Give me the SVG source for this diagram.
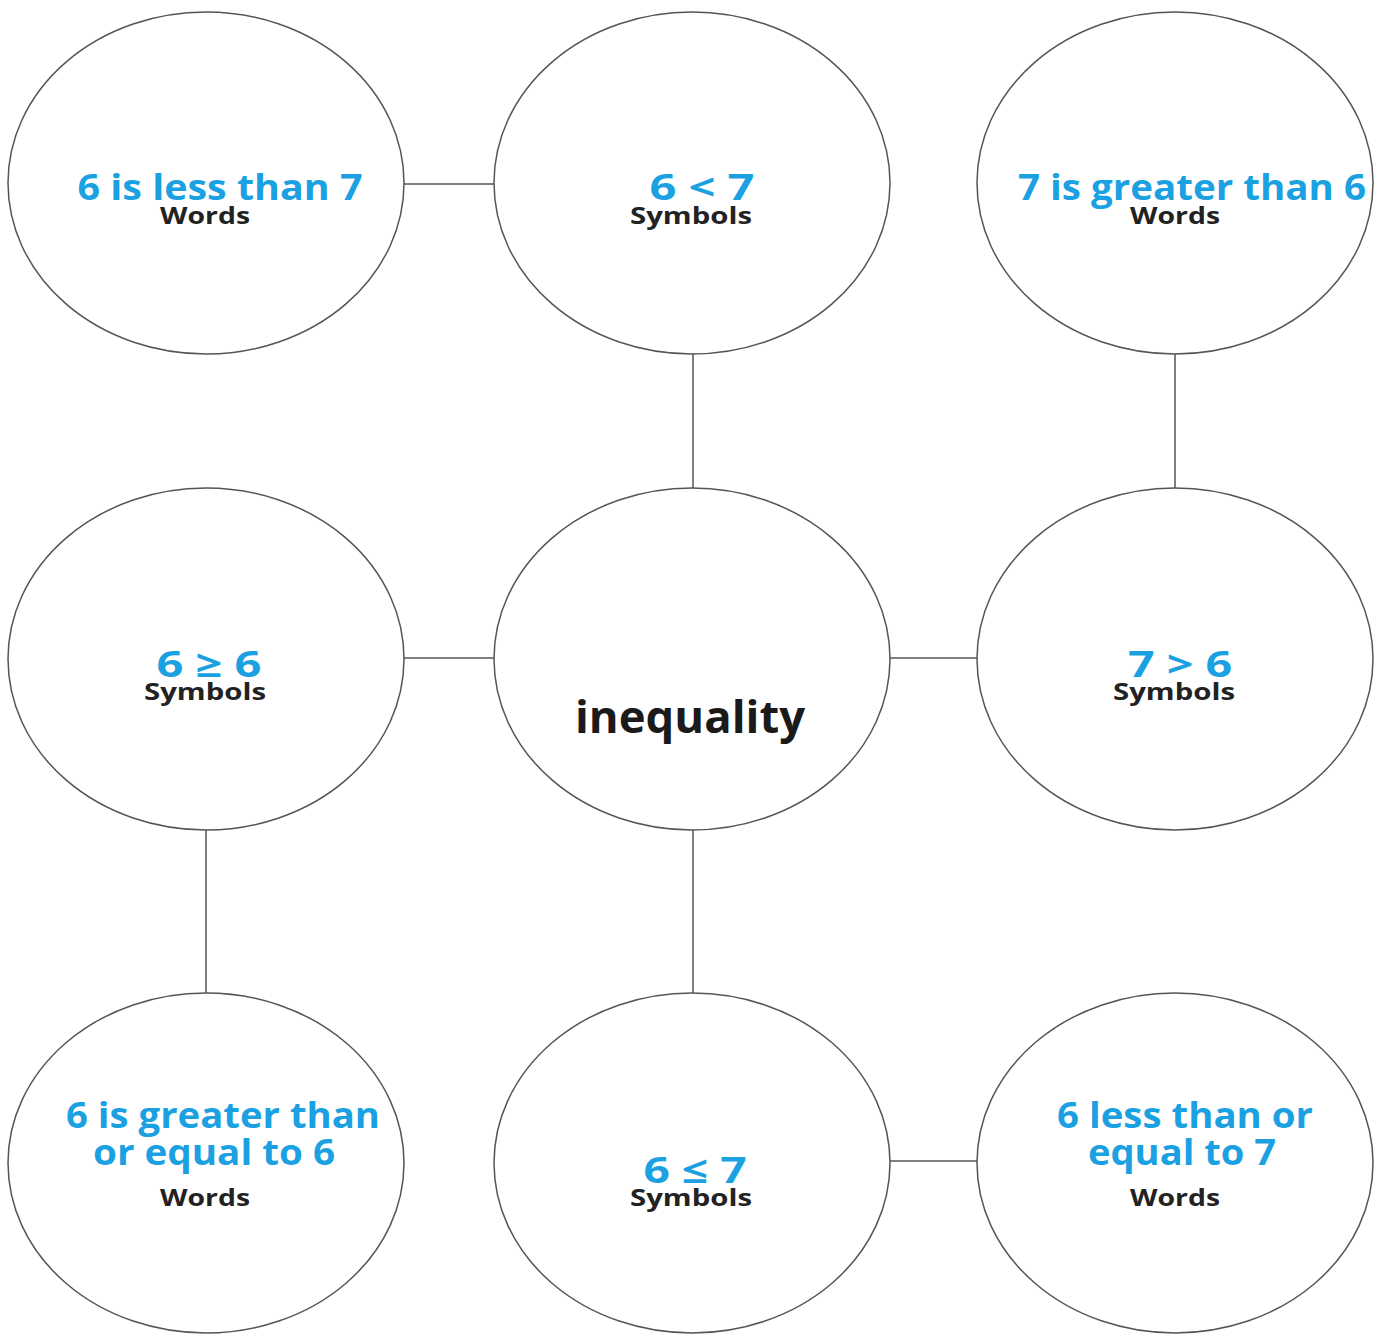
<svg xmlns="http://www.w3.org/2000/svg" width="1383" height="1335" viewBox="0 0 1383 1335">
<style>
.n{fill:#fff;stroke:#555;stroke-width:1.5}
.c line{stroke:#555;stroke-width:1.5}
.b{font-family:"Open Sans","Liberation Sans",sans-serif;font-weight:700;font-size:36px;fill:#1ba1e2;text-anchor:middle}
.k{font-family:"Open Sans","Liberation Sans",sans-serif;font-weight:700;font-size:24px;fill:#222;text-anchor:middle}
.t{font-family:"Open Sans","Liberation Sans",sans-serif;font-weight:700;font-size:44px;fill:#1a1a1a;text-anchor:middle}
</style>
<rect width="1383" height="1335" fill="#fff"/>
<g class="c" id="connectors">
<line x1="404" y1="184" x2="494" y2="184"/>
<line x1="693" y1="354" x2="693" y2="488"/>
<line x1="1175" y1="354" x2="1175" y2="488"/>
<line x1="404" y1="658" x2="494" y2="658"/>
<line x1="890" y1="658" x2="977" y2="658"/>
<line x1="206" y1="830" x2="206" y2="993"/>
<line x1="693" y1="830" x2="693" y2="993"/>
<line x1="890" y1="1161" x2="977" y2="1161"/>
</g>
<g id="n1"><ellipse class="n" cx="206" cy="183" rx="198" ry="171"/>
<text class="b" x="220" y="200" textLength="285" lengthAdjust="spacingAndGlyphs">6 is less than 7</text>
<text class="k" x="205" y="224" textLength="90" lengthAdjust="spacingAndGlyphs">Words</text></g>
<g id="n2"><ellipse class="n" cx="692" cy="183" rx="198" ry="171"/>
<text class="b" x="702" y="200" textLength="105" lengthAdjust="spacingAndGlyphs">6 &lt; 7</text>
<text class="k" x="691" y="224" textLength="122" lengthAdjust="spacingAndGlyphs">Symbols</text></g>
<g id="n3"><ellipse class="n" cx="1175" cy="183" rx="198" ry="171"/>
<text class="b" x="1192" y="200" textLength="348" lengthAdjust="spacingAndGlyphs">7 is greater than 6</text>
<text class="k" x="1175" y="224" textLength="90" lengthAdjust="spacingAndGlyphs">Words</text></g>
<g id="n4"><ellipse class="n" cx="206" cy="659" rx="198" ry="171"/>
<text class="b" x="209" y="677" textLength="105" lengthAdjust="spacingAndGlyphs">6 ≥ 6</text>
<text class="k" x="205" y="700" textLength="122" lengthAdjust="spacingAndGlyphs">Symbols</text></g>
<g id="n5"><ellipse class="n" cx="692" cy="659" rx="198" ry="171"/>
<text class="t" x="690" y="733" textLength="230" lengthAdjust="spacingAndGlyphs">inequality</text></g>
<g id="n6"><ellipse class="n" cx="1175" cy="659" rx="198" ry="171"/>
<text class="b" x="1180" y="677" textLength="104" lengthAdjust="spacingAndGlyphs">7 &gt; 6</text>
<text class="k" x="1174" y="700" textLength="122" lengthAdjust="spacingAndGlyphs">Symbols</text></g>
<g id="n7"><ellipse class="n" cx="206" cy="1163" rx="198" ry="170"/>
<text class="b" x="223" y="1128" textLength="314" lengthAdjust="spacingAndGlyphs">6 is greater than</text>
<text class="b" x="214" y="1165" textLength="242" lengthAdjust="spacingAndGlyphs">or equal to 6</text>
<text class="k" x="205" y="1206" textLength="90" lengthAdjust="spacingAndGlyphs">Words</text></g>
<g id="n8"><ellipse class="n" cx="692" cy="1163" rx="198" ry="170"/>
<text class="b" x="695" y="1183" textLength="103" lengthAdjust="spacingAndGlyphs">6 ≤ 7</text>
<text class="k" x="691" y="1206" textLength="122" lengthAdjust="spacingAndGlyphs">Symbols</text></g>
<g id="n9"><ellipse class="n" cx="1175" cy="1163" rx="198" ry="170"/>
<text class="b" x="1185" y="1128" textLength="256" lengthAdjust="spacingAndGlyphs">6 less than or</text>
<text class="b" x="1182" y="1165" textLength="188" lengthAdjust="spacingAndGlyphs">equal to 7</text>
<text class="k" x="1175" y="1206" textLength="90" lengthAdjust="spacingAndGlyphs">Words</text></g>
</svg>
